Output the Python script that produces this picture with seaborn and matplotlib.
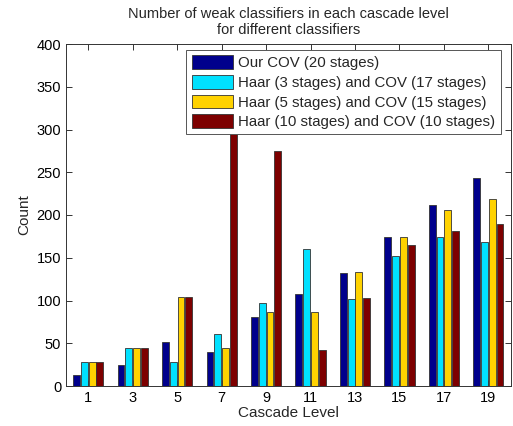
import matplotlib
matplotlib.use("Agg")
import matplotlib.pyplot as plt
import seaborn as sns
import pandas as pd
import numpy as np

levels = [1, 3, 5, 7, 9, 11, 13, 15, 17, 19]
series_names = [
    "Our COV (20 stages)",
    "Haar (3 stages) and COV (17 stages)",
    "Haar (5 stages) and COV (15 stages)",
    "Haar (10 stages) and COV (10 stages)",
]
our_cov = [13, 24, 51, 40, 81, 108, 132, 174, 212, 243]
haar3_cov17 = [28, 45, 28, 61, 97, 160, 102, 152, 174, 168]
haar5_cov15 = [28, 45, 104, 45, 87, 86, 133, 174, 206, 219]
haar10_cov10 = [28, 45, 104, 330, 275, 42, 103, 165, 181, 189]
colors = ["#00008C", "#00E1FF", "#FFD200", "#7D0000"]

rows = []
for name, vals in zip(series_names, [our_cov, haar3_cov17, haar5_cov15, haar10_cov10]):
    for lv, v in zip(levels, vals):
        rows.append({"Cascade Level": lv, "Count": v, "Series": name})
df = pd.DataFrame(rows)

sns.set_style("ticks")
plt.rcParams["font.family"] = ["Liberation Sans", "DejaVu Sans"]

fig = plt.figure(figsize=(5.13, 4.26), dpi=100)
ax = fig.add_axes([66 / 513, 1 - 386 / 426, (510.6 - 66) / 513, (386 - 44) / 426])

sns.barplot(data=df, x="Cascade Level", y="Count", hue="Series",
            hue_order=series_names, palette=colors, native_scale=True,
            width=0.7, gap=0.12, edgecolor="#333333", linewidth=0.6,
            saturation=1, ax=ax, legend=True)

ax.set_xlim(0, 20)
ax.set_ylim(0, 400)
ax.set_xticks(levels)
ax.set_xticklabels([str(l) for l in levels])
ax.set_yticks(np.arange(0, 401, 50))
for s in ax.spines.values():
    s.set_visible(True)
    s.set_color("#333333")
    s.set_linewidth(0.7)
ax.tick_params(direction="in", length=4, width=0.7, colors="#333333",
               labelcolor="black", labelsize=10.5, top=True, right=True)
ax.set_xlabel("Cascade Level", fontsize=11, labelpad=1)
ax.set_ylabel("Count", fontsize=11, labelpad=4)
ax.set_title("Number of weak classifiers in each cascade level\nfor different classifiers",
             fontsize=10.5, pad=7, linespacing=1.25)

leg = ax.legend(loc="upper right", bbox_to_anchor=(0.9775, 0.982), borderaxespad=0,
                fontsize=10.8, frameon=True, fancybox=False, framealpha=1,
                edgecolor="#555555", handlelength=2.75, handleheight=1.05,
                labelspacing=0.3, handletextpad=0.35, borderpad=0.35)
leg.get_frame().set_linewidth(0.7)
leg.set_zorder(10)

fig.savefig("out.png", dpi=100)
